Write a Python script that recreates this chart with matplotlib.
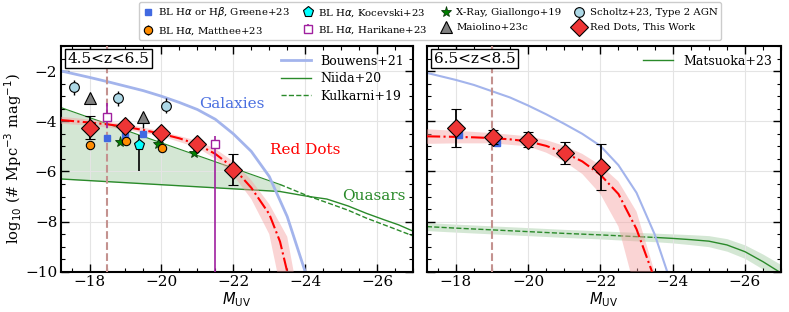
import numpy as np
import matplotlib
matplotlib.use("Agg")
import matplotlib.pyplot as plt
from matplotlib.ticker import MultipleLocator

plt.rcParams['font.family'] = ['DejaVu Serif']
plt.rcParams['mathtext.fontset'] = 'dejavusans'

# ---------------- data: 4.5<z<6.5 panel ----------------
reddots_lo_M = [-18.0, -19.0, -20.0, -21.0, -22.0]
reddots_lo_phi = [-4.26, -4.17, -4.48, -4.89, -5.93]
reddots_lo_err = [0.46, 0.12, 0.15, 0.15, 0.62]

greene_lo_M = [-18.48, -18.99, -19.5]
greene_lo_phi = [-4.66, -4.6, -4.5]

matthee_M = [-18.0, -19.02, -20.02]
matthee_phi = [-4.93, -4.77, -5.07]
matthee_err = [0.12, 0.12, 0.12]

kocevski_M = [-19.38]
kocevski_phi = [-4.93]
kocevski_err_up = [0.4]
kocevski_err_dn = [1.04]

harikane_M = [-18.5, -21.5]
harikane_phi = [-3.84, -4.89]
harikane_err_up = [0.58, 0.3]
harikane_err_dn = [0.42, 6.0]

giallongo_M = [-18.86, -19.9, -20.92]
giallongo_phi = [-4.83, -4.9, -5.28]

maiolino_M = [-18.0, -19.5]
maiolino_phi = [-3.07, -3.82]
maiolino_err_up = [0.12, 0.1]
maiolino_err_dn = [0.15, 0.45]

scholtz_M = [-17.56, -18.79, -20.14]
scholtz_phi = [-2.64, -3.09, -3.38]
scholtz_err = [0.3, 0.3, 0.3]

# fit to red dots (low z)
fit_lo_M = [-17.2, -18.0, -18.5, -19.0, -19.5, -20.0, -20.5, -21.0, -21.5, -22.0, -22.5, -23.0, -23.3, -23.5]
fit_lo_phi = [-3.95, -4.05, -4.12, -4.22, -4.35, -4.5, -4.68, -4.92, -5.3, -5.85, -6.65, -7.7, -8.8, -10.0]
fitband_lo_lower_M = [-17.2, -18.0, -19.0, -20.0, -21.0, -21.5, -22.0, -22.5, -23.0, -23.22]
fitband_lo_lower = [-4.1, -4.17, -4.33, -4.6, -5.05, -5.5, -6.15, -7.1, -8.5, -10.0]
fitband_lo_upper_M = [-17.2, -18.0, -19.0, -20.0, -21.0, -21.5, -22.0, -22.5, -23.0, -23.5, -23.68]
fitband_lo_upper = [-3.82, -3.93, -4.1, -4.4, -4.78, -5.1, -5.6, -6.35, -7.3, -8.6, -10.0]

# Bouwens+21 galaxies (low z)
bouwens_lo_M = [-17.2, -18.0, -18.5, -19.0, -19.5, -20.0, -20.5, -21.0, -21.5, -22.0, -22.5, -23.0, -23.5, -24.0, -24.1]
bouwens_lo_phi = [-1.99, -2.25, -2.42, -2.6, -2.78, -3.0, -3.25, -3.53, -3.92, -4.5, -5.2, -6.2, -7.8, -10.0, -10.5]

# quasars (low z)
qso_band_M = [-17.2, -23.3]
qso_band_hi = [-3.45, -6.52]
qso_band_lo = [-6.3, -6.8]
niida_M = [-17.2, -23.3, -24.1, -24.6, -25.2, -25.7, -26.2, -26.6, -27.0]
niida_phi = [-6.3, -6.8, -7.0, -7.1, -7.38, -7.67, -7.93, -8.13, -8.38]
kulkarni_M = [-23.3, -24.1, -24.6, -25.2, -25.7, -26.4, -27.0]
kulkarni_phi = [-6.52, -6.99, -7.24, -7.55, -7.86, -8.24, -8.57]

# ---------------- data: 6.5<z<8.5 panel ----------------
reddots_hi_M = [-18.0, -19.02, -19.99, -21.01, -22.03]
reddots_hi_phi = [-4.26, -4.64, -4.73, -5.26, -5.82]
reddots_hi_err = [0.75, 0.28, 0.3, 0.45, 0.92]

greene_hi_M = [-18.09, -19.13]
greene_hi_phi = [-4.56, -4.87]

fit_hi_M = [-17.2, -18.0, -18.5, -19.0, -19.5, -20.0, -20.5, -21.0, -21.5, -22.0, -22.5, -23.0, -23.43]
fit_hi_phi = [-4.6, -4.62, -4.64, -4.67, -4.72, -4.8, -4.98, -5.25, -5.6, -6.13, -6.9, -8.3, -10.0]
fitband_hi_lower_M = [-17.2, -18.0, -19.0, -20.0, -20.5, -21.0, -21.5, -22.0, -22.5, -22.83]
fitband_hi_lower = [-4.9, -4.88, -4.88, -5.0, -5.25, -5.6, -6.1, -6.9, -8.2, -10.0]
fitband_hi_upper_M = [-17.2, -18.0, -19.0, -20.0, -20.5, -21.0, -21.5, -22.0, -22.5, -23.0, -23.5]
fitband_hi_upper = [-4.32, -4.38, -4.47, -4.6, -4.75, -4.98, -5.3, -5.75, -6.4, -7.6, -10.0]

bouwens_hi_M = [-17.2, -18.0, -18.5, -19.0, -19.5, -20.0, -20.5, -21.0, -21.5, -22.0, -22.5, -23.0, -23.5, -23.85, -24.0]
bouwens_hi_phi = [-2.07, -2.35, -2.55, -2.8, -3.05, -3.37, -3.72, -4.1, -4.5, -4.98, -5.75, -6.85, -8.5, -10.0, -10.6]

matsuoka_M = [-17.2, -18.0, -19.0, -20.0, -21.0, -22.0, -23.0, -23.5, -24.0, -24.5, -25.0, -25.5, -26.0, -26.5, -27.0]
matsuoka_phi = [-8.2, -8.26, -8.33, -8.4, -8.47, -8.53, -8.6, -8.63, -8.67, -8.72, -8.78, -8.93, -9.2, -9.6, -10.05]
matsuoka_hi = [-8.04, -8.1, -8.17, -8.24, -8.31, -8.37, -8.43, -8.46, -8.49, -8.52, -8.56, -8.68, -8.93, -9.3, -9.72]
matsuoka_lo = [-8.36, -8.42, -8.49, -8.56, -8.63, -8.69, -8.77, -8.8, -8.85, -8.92, -9.0, -9.18, -9.47, -9.9, -10.38]

# ---------------- plotting ----------------
fig = plt.figure(figsize=(7.89, 3.12), dpi=100)
ax1 = fig.add_axes([0.077, 0.129, 0.4465, 0.7234])
ax2 = fig.add_axes([0.541, 0.129, 0.449, 0.7234], sharey=ax1)

bcol = '#a3b4ec'
gcol = '#2a8a2a'
rcol = '#ee3535'
vcol = '#c4928f'


def style(ax):
    ax.set_xlim(-17.2, -27)
    ax.set_ylim(-10, -1)
    ax.xaxis.set_major_locator(MultipleLocator(2))
    ax.xaxis.set_minor_locator(MultipleLocator(0.5))
    ax.yaxis.set_major_locator(MultipleLocator(2))
    ax.yaxis.set_minor_locator(MultipleLocator(0.5))
    ax.tick_params(which='both', direction='in', top=True, right=True, labelsize=11, pad=2.5)
    ax.tick_params(which='major', length=6, width=1)
    ax.tick_params(which='minor', length=3, width=0.8)
    ax.grid(True, which='major', color='#e4e4e4', lw=0.8, zorder=0)
    for s in ax.spines.values():
        s.set_linewidth(1.5)
    ax.set_xlabel(r'$M_{\rm UV}$', fontsize=10.5, labelpad=0.5)


def diamonds(ax, M, phi, err):
    ax.errorbar(M, phi, yerr=err, fmt='D', ms=9.5, mfc=rcol, mec='k', mew=0.8,
                ecolor='k', elinewidth=1.3, capsize=3.5, capthick=1.3, zorder=8)


# left panel
ax = ax1
style(ax)
ax.fill_between(qso_band_M, qso_band_lo, qso_band_hi, color=gcol, alpha=0.2, lw=0, zorder=1)
ax.plot(qso_band_M, qso_band_hi, color=gcol, lw=0.8, zorder=2)
ax.plot(niida_M, niida_phi, color=gcol, lw=1.0, zorder=2, label='Niida+20')
ax.plot(kulkarni_M, kulkarni_phi, color=gcol, lw=1.0, ls='--', zorder=2, label='Kulkarni+19')
ax.plot(bouwens_lo_M, bouwens_lo_phi, color=bcol, lw=2, zorder=2, label='Bouwens+21')
ax.fill(fitband_lo_lower_M + fitband_lo_upper_M[::-1], fitband_lo_lower + fitband_lo_upper[::-1],
        color='#f5a0a0', alpha=0.45, lw=0, zorder=3)
ax.plot(fit_lo_M, fit_lo_phi, color='red', ls='-.', lw=1.5, zorder=4)
ax.axvline(-18.5, color=vcol, ls='--', lw=1.5, zorder=3)

ax.errorbar(scholtz_M, scholtz_phi, yerr=scholtz_err, fmt='o', ms=7, mfc='#add8e6', mec='k',
            mew=0.8, ecolor='k', elinewidth=1, zorder=6, label='Scholtz+23, Type 2 AGN')
ax.errorbar(maiolino_M, maiolino_phi, yerr=[maiolino_err_dn, maiolino_err_up], fmt='^', ms=8,
            mfc='gray', mec='k', mew=0.8, ecolor='k', elinewidth=1, zorder=6, label='Maiolino+23c')
ax.errorbar(harikane_M, harikane_phi, yerr=[harikane_err_dn, harikane_err_up], fmt='s', ms=6,
            mfc='white', mec='#a0209f', mew=1, ecolor='#a0209f', elinewidth=1.2, zorder=6,
            label=r'BL H$\alpha$, Harikane+23')
ax.errorbar(kocevski_M, kocevski_phi, yerr=[kocevski_err_dn, kocevski_err_up], fmt='p', ms=8,
            mfc='cyan', mec='k', mew=0.8, ecolor='k', elinewidth=1.2, zorder=6,
            label=r'BL H$\alpha$, Kocevski+23')
ax.plot(greene_lo_M, greene_lo_phi, 's', ms=5, color='#4169e1', zorder=6,
        label=r'BL H$\alpha$ or H$\beta$, Greene+23')
ax.errorbar(matthee_M, matthee_phi, yerr=matthee_err, fmt='o', ms=6, mfc='darkorange', mec='k',
            mew=0.8, ecolor='k', elinewidth=1, zorder=7, label=r'BL H$\alpha$, Matthee+23')
ax.plot(giallongo_M, giallongo_phi, '*', ms=8, mfc='green', mec='#0a3a0a', mew=0.6, zorder=7,
        label='X-Ray, Giallongo+19')
diamonds(ax, reddots_lo_M, reddots_lo_phi, reddots_lo_err)

ax.text(-21.97, -3.33, 'Galaxies', color='#4a6fe0', fontsize=11, ha='center', va='center')
ax.text(-24.0, -5.13, 'Red Dots', color='red', fontsize=11, ha='center', va='center')
ax.text(-25.9, -6.93, 'Quasars', color='#2a8a2a', fontsize=11, ha='center', va='center')
ax.text(0.02, 0.975, '4.5<z<6.5', transform=ax.transAxes, fontsize=11, ha='left', va='top',
        bbox=dict(fc='white', ec='k', pad=2, lw=1), zorder=10)
h, l = ax.get_legend_handles_labels()
order = [l.index('Bouwens+21'), l.index('Niida+20'), l.index('Kulkarni+19')]
ax.legend([h[i] for i in order], [l[i] for i in order], loc='upper right', frameon=False,
          fontsize=9, handlelength=2.4, borderaxespad=0.3, labelspacing=0.35)
ax.set_ylabel(r'log$_{10}$ (# Mpc$^{-3}$ mag$^{-1}$)', fontsize=10.5, labelpad=1)

# right panel
ax = ax2
style(ax)
ax.tick_params(labelleft=False)
ax.fill_between(matsuoka_M, matsuoka_lo, matsuoka_hi, color=gcol, alpha=0.2, lw=0, zorder=1)
ax.plot(matsuoka_M[:8], matsuoka_phi[:8], color=gcol, lw=1.0, ls='--', zorder=2)
ax.plot(matsuoka_M[7:], matsuoka_phi[7:], color=gcol, lw=1.0, zorder=2, label='Matsuoka+23')
ax.plot(bouwens_hi_M, bouwens_hi_phi, color=bcol, lw=1.5, zorder=2)
ax.fill(fitband_hi_lower_M + fitband_hi_upper_M[::-1], fitband_hi_lower + fitband_hi_upper[::-1],
        color='#f5a0a0', alpha=0.45, lw=0, zorder=3)
ax.plot(fit_hi_M, fit_hi_phi, color='red', ls='-.', lw=1.5, zorder=4)
ax.axvline(-19.0, color=vcol, ls='--', lw=1.5, zorder=3)
ax.plot(greene_hi_M, greene_hi_phi, 's', ms=5, color='#4169e1', zorder=6)
diamonds(ax, reddots_hi_M, reddots_hi_phi, reddots_hi_err)
ax.text(0.02, 0.975, '6.5<z<8.5', transform=ax.transAxes, fontsize=11, ha='left', va='top',
        bbox=dict(fc='white', ec='k', pad=2, lw=1), zorder=10)
ax.legend(loc='upper right', frameon=False, fontsize=9, handlelength=2.4, borderaxespad=0.3)

# top legend
hh, ll = ax1.get_legend_handles_labels()
want = [r'BL H$\alpha$ or H$\beta$, Greene+23', r'BL H$\alpha$, Matthee+23',
        r'BL H$\alpha$, Kocevski+23', r'BL H$\alpha$, Harikane+23',
        'X-Ray, Giallongo+19', 'Maiolino+23c',
        'Scholtz+23, Type 2 AGN']
handles = [hh[ll.index(w)] for w in want]
rd = plt.Line2D([], [], marker='D', ls='none', ms=9, mfc=rcol, mec='k', mew=0.8)
handles.append(rd)
labels = want + ['Red Dots, This Work']
fig.legend(handles, labels, loc='upper center', bbox_to_anchor=(0.545, 1.01), ncol=4, fontsize=7.3,
           handlelength=1.0, columnspacing=1.3, labelspacing=0.55, borderpad=0.35,
           handletextpad=0.5, framealpha=1, edgecolor='#cccccc')

fig.savefig('out.png', dpi=100)
